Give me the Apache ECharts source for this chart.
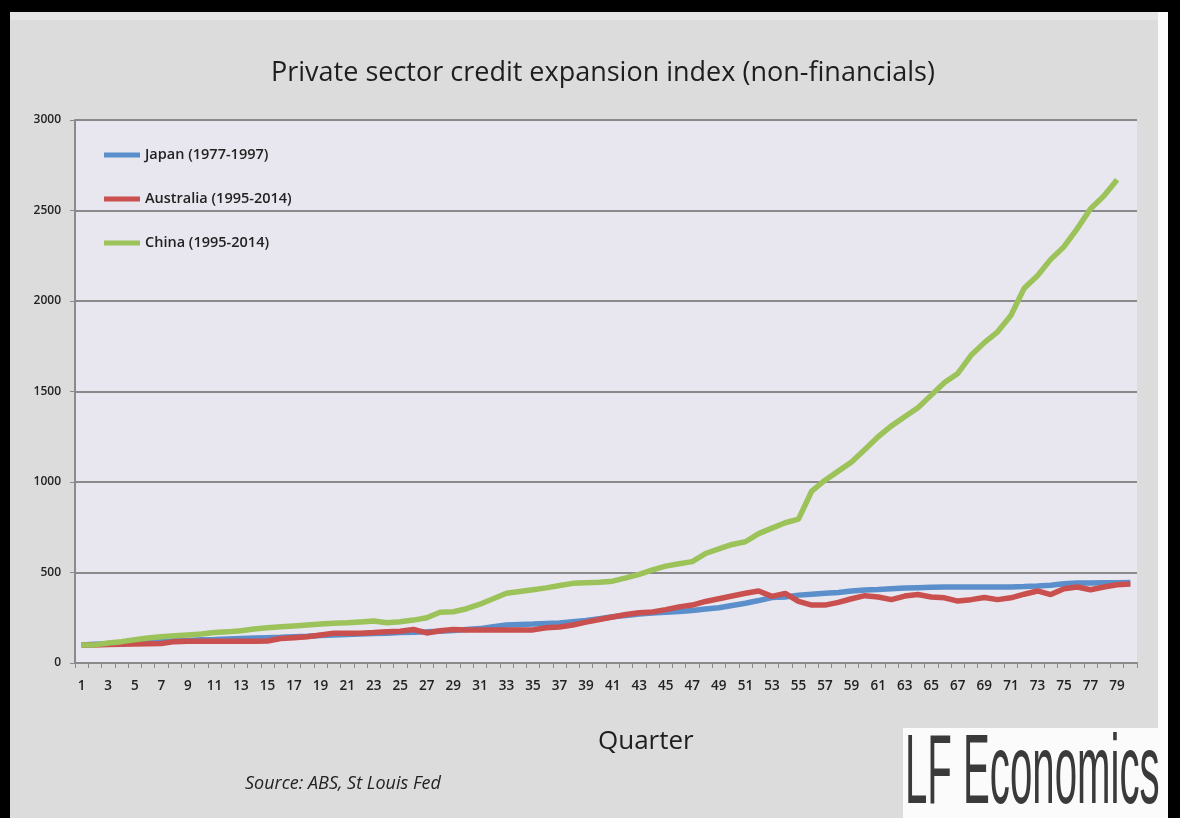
<!DOCTYPE html>
<html>
<head>
<meta charset="utf-8">
<script src="https://cdn.jsdelivr.net/npm/echarts@6/dist/echarts.min.js"></script>
<style>
html,body{margin:0;padding:0;background:#000;}
#chart{width:1180px;height:818px;}
</style>
</head>
<body>
<div id="chart"></div>
<script>
var quarters = [];
for (var q = 1; q <= 80; q++) quarters.push(String(q));

var japan = [100,103,106,110,113,117,120,123,125,128,130,133,136,138,140,142,145,148,152,155,
158,160,163,165,168,170,172,175,180,185,190,200,210,213,215,218,221,228,235,245,
255,262,270,276,280,285,290,298,305,318,330,345,362,365,375,380,385,390,398,403,
406,410,414,416,418,420,420,420,420,420,420,422,425,430,438,442,442,443,444,445];

var australia = [100,100,102,104,105,106,108,118,120,120,120,120,120,120,122,135,140,145,155,165,
165,165,168,172,175,185,166,178,185,182,182,182,182,182,183,195,199,210,226,240,
254,268,278,282,295,310,320,340,355,370,385,398,368,385,340,320,320,335,355,372,
365,350,370,378,365,360,342,350,362,350,360,380,398,378,410,420,405,420,432,436];

var china = [100,100,110,118,128,138,145,150,155,160,168,172,178,188,195,200,205,210,215,220,
222,227,232,222,228,237,250,280,283,300,325,355,385,395,405,415,428,440,443,446,
452,470,490,515,535,548,560,605,630,655,670,715,745,775,795,950,1010,1060,1110,1180,
1250,1310,1360,1410,1480,1550,1600,1700,1770,1830,1920,2070,2140,2230,2300,2400,2510,2580,2670];

var seriesNames = ['Japan (1977-1997)', 'Australia (1995-2014)', 'China (1995-2014)'];
var seriesColors = ['#5b8fcb', '#c9504e', '#9cc25a'];

var chart = echarts.init(document.getElementById('chart'));
var option = {
  backgroundColor: '#000',
  animation: false,
  title: {
    text: 'Private sector credit expansion index (non-financials)',
    left: 266,
    top: 55,
    textStyle: {fontFamily: 'Open Sans', fontSize: 27, fontWeight: 'normal', color: '#1e1e1e'}
  },
  graphic: [
    {type: 'rect', z: -10, shape: {x: 10, y: 12, width: 1148, height: 806}, style: {fill: '#dcdcdc'}},
    {type: 'rect', z: -10, shape: {x: 10, y: 12, width: 1148, height: 8}, style: {fill: '#e4e4e4'}},
    {type: 'rect', z: -10, shape: {x: 1158, y: 12, width: 10, height: 806}, style: {fill: '#fbfbfb'}},
    {type: 'rect', z: -9, shape: {x: 75, y: 120, width: 1062, height: 543}, style: {fill: '#e8e7ef'}},
    {type: 'rect', z: -9, shape: {x: 903, y: 728, width: 257, height: 90}, style: {fill: '#fbfbfb'}},
    {type: 'text', left: 598, top: 729, style: {text: 'Quarter', fontFamily: 'Open Sans', fontSize: 26, fill: '#1e1e1e'}},
    {type: 'text', left: 245, top: 775, style: {text: 'Source: ABS, St Louis Fed', fontFamily: 'Open Sans', fontStyle: 'italic', fontSize: 18, fill: '#222'}},
    {type: 'text', x: 905, y: 727, scaleX: 0.41, style: {text: 'LF Economics', fontFamily: 'Liberation Sans', fontSize: 98, fill: '#3a3a3a'}}
  ],
  legend: {
    orient: 'vertical',
    left: 99,
    top: 142,
    itemGap: 28,
    itemWidth: 36,
    itemHeight: 5,
    icon: 'rect',
    textStyle: {fontFamily: 'Open Sans', fontSize: 14.5, fontWeight: 600, color: '#222', lineHeight: 16},
    data: seriesNames
  },
  grid: {left: 75, right: 43, top: 120, bottom: 155, containLabel: false},
  xAxis: {
    type: 'category',
    data: quarters,
    boundaryGap: true,
    axisLine: {lineStyle: {color: '#8a8a8a', width: 2}},
    axisTick: {show: true, interval: 0, length: 5, lineStyle: {color: '#8a8a8a', width: 1}},
    axisLabel: {interval: 1, margin: 16, fontFamily: 'Open Sans', fontSize: 13.5, fontWeight: 600, color: '#222'}
  },
  yAxis: {
    type: 'value',
    min: 0, max: 3000, interval: 500,
    axisLine: {show: true, lineStyle: {color: '#8a8a8a', width: 2}},
    axisTick: {show: true, length: 5, lineStyle: {color: '#8a8a8a'}},
    axisLabel: {margin: 14, fontFamily: 'Open Sans', fontSize: 12, fontWeight: 600, color: '#222',
      formatter: function (v) { return String(v); }},
    splitLine: {lineStyle: {color: '#8a8a8a', width: 2}}
  },
  series: [
    {name: seriesNames[0], type: 'line', data: japan, symbol: 'none', color: seriesColors[0], lineStyle: {width: 5.5}},
    {name: seriesNames[1], type: 'line', data: australia, symbol: 'none', color: seriesColors[1], lineStyle: {width: 5.5}},
    {name: seriesNames[2], type: 'line', data: china, symbol: 'none', color: seriesColors[2], lineStyle: {width: 5.5}}
  ]
};
chart.setOption(option);
</script>
</body>
</html>
